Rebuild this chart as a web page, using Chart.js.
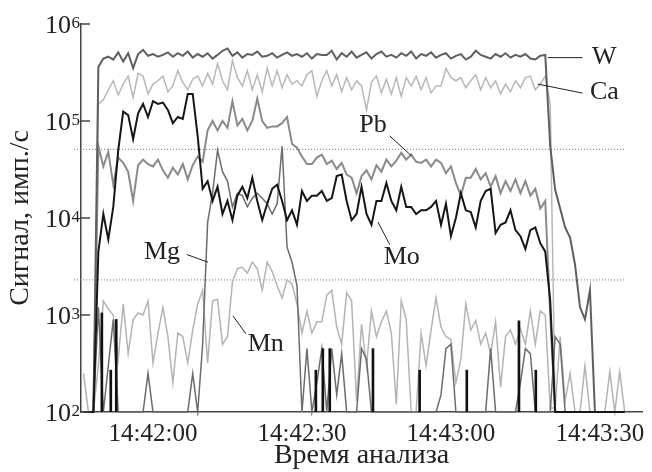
<!DOCTYPE html>
<html lang="ru">
<head>
<meta charset="UTF-8">
<title>Сигнал, имп./с</title>
<script src="https://cdn.jsdelivr.net/npm/chart.js"></script>
<style>
  html, body { margin: 0; padding: 0; background: #fff; }
</style>
</head>
<body>
<canvas id="chart" width="652" height="472"></canvas>
<script>
// time axis: seconds after 14:42:00, one sample per second
const secs = Array.from({ length: 110 }, (v, i) => i - 14);

const tickSecs = [0, 30, 60, 90];
const tickLabels = ['14:42:00', '14:42:30', '14:43:00', '14:43:30'];
const decadeTicks = [1e2, 1e3, 1e4, 1e5, 1e6];
const decadeExps = ['2', '3', '4', '5', '6'];

// signal, counts/s
const W = [
  100, 100, 100, 3.6e5, 4.4e5, 4.6e5, 4.3e5, 5.1e5, 4.1e5, 5.0e5,
  3.5e5, 4.9e5, 5.4e5, 4.7e5, 4.9e5, 4.6e5, 4.8e5, 5.1e5, 4.6e5, 5.0e5,
  4.7e5, 5.2e5, 4.5e5, 4.9e5, 4.6e5, 5.0e5, 4.4e5, 4.8e5, 5.3e5, 5.6e5,
  4.7e5, 5.1e5, 4.5e5, 4.9e5, 4.8e5, 5.2e5, 4.6e5, 4.7e5, 5.0e5, 4.5e5,
  4.8e5, 5.1e5, 4.7e5, 4.9e5, 4.6e5, 5.0e5, 4.4e5, 4.9e5, 4.8e5, 4.8e5,
  5.3e5, 4.3e5, 5.0e5, 4.6e5, 5.2e5, 4.5e5, 4.8e5, 5.1e5, 4.4e5, 4.9e5,
  5.2e5, 4.6e5, 4.8e5, 4.5e5, 5.0e5, 4.7e5, 5.2e5, 4.4e5, 4.9e5, 4.7e5,
  5.1e5, 4.5e5, 4.8e5, 5.0e5, 4.4e5, 4.7e5, 4.9e5, 4.3e5, 4.6e5, 5.3e5,
  4.8e5, 4.6e5, 4.4e5, 4.9e5, 4.6e5, 5.0e5, 4.5e5, 4.8e5, 4.6e5, 4.9e5,
  4.4e5, 4.3e5, 4.7e5, 4.8e5, 5.5e4, 1.95e4, 1.25e4, 8e3, 6.3e3, 3.3e3,
  1.2e3, 900, 1.8e3, 100, 100, 100, 100, 100, 100, 100
];
const Ca = [
  100, 100, 100, 1.5e5, 1.65e5, 2.1e5, 2.6e5, 1.85e5, 2.4e5, 2.9e5,
  1.75e5, 3.1e5, 2.9e5, 1.9e5, 2.4e5, 2.6e5, 2.9e5, 2.0e5, 2.3e5, 3.3e5,
  2.5e5, 2.1e5, 2.7e5, 2.9e5, 2.3e5, 3.1e5, 2.4e5, 3.9e5, 2.6e5, 2.1e5,
  4.2e5, 2.8e5, 2.3e5, 3.3e5, 2.1e5, 3.0e5, 2.0e5, 3.5e5, 2.3e5, 3.3e5,
  2.2e5, 3.0e5, 2.4e5, 2.6e5, 2.3e5, 3.0e5, 3.3e5, 1.8e5, 2.6e5, 3.3e5,
  2.3e5, 3.0e5, 2.0e5, 2.8e5, 2.1e5, 2.6e5, 2.3e5, 1.3e5, 2.5e5, 2.9e5,
  1.95e5, 2.7e5, 1.9e5, 2.8e5, 1.8e5, 2.8e5, 2.3e5, 2.9e5, 2.1e5, 2.8e5,
  1.95e5, 2.3e5, 2.3e5, 3.5e5, 2.8e5, 2.6e5, 2.8e5, 2.2e5, 2.6e5, 3.0e5,
  2.1e5, 2.8e5, 2.2e5, 2.6e5, 1.9e5, 2.4e5, 2.0e5, 2.6e5, 2.2e5, 2.8e5,
  2.9e5, 2.1e5, 2.4e5, 2.9e5, 1.5e5, 100, 100, 100, 100, 100,
  100, 100, 100, 100, 100, 100, 100, 100, 100, 100
];
const Pb = [
  100, 100, 100, 5.5e4, 3.4e4, 4.8e4, 2.2e4, 4.2e4, 3.7e4, 3.0e4,
  1.5e4, 3.5e4, 4.0e4, 3.6e4, 3.4e4, 4.0e4, 3.1e4, 2.6e4, 3.3e4, 2.8e4,
  3.6e4, 2.5e4, 3.5e4, 4.3e4, 3.8e4, 8e4, 1.0e5, 8e4, 1.0e5, 8.5e4,
  1.6e5, 9e4, 1.05e5, 8e4, 1.0e5, 1.7e5, 1.0e5, 8.5e4, 8.8e4, 8.8e4,
  9.5e4, 1.1e5, 5.8e4, 5.3e4, 4.3e4, 3.6e4, 3.6e4, 4.2e4, 4.5e4, 3.6e4,
  3.9e4, 3.2e4, 3.7e4, 2.8e4, 2.6e4, 1.8e4, 2.7e4, 3.1e4, 2.5e4, 3.5e4,
  3.0e4, 4.0e4, 3.4e4, 3.9e4, 4.7e4, 4.0e4, 4.5e4, 3.8e4, 3.7e4, 4.0e4,
  3.4e4, 4.0e4, 3.7e4, 2.9e4, 3.4e4, 2.3e4, 1.7e4, 2.6e4, 2.6e4, 3.2e4,
  2.5e4, 2.9e4, 2.1e4, 2.7e4, 1.8e4, 2.4e4, 1.9e4, 2.5e4, 1.8e4, 2.4e4,
  1.7e4, 2.0e4, 1.25e4, 1.5e4, 1e3, 100, 100, 100, 100, 100,
  100, 100, 100, 100, 100, 100, 100, 100, 100, 100
];
const Mo = [
  100, 100, 100, 4.5e3, 1.1e4, 6e3, 1.3e4, 5e4, 1.25e5, 1.15e5,
  6.5e4, 1.2e5, 1.5e5, 1.1e5, 1.6e5, 1.5e5, 1.55e5, 1.3e5, 9.5e4, 1.1e5,
  1.05e5, 1.9e5, 1.9e5, 7e4, 2.0e4, 2.4e4, 1.5e4, 2.1e4, 1.1e4, 1.5e4,
  9.5e3, 1.7e4, 2.1e4, 1.6e4, 2.6e4, 1.5e4, 9.5e3, 1.4e4, 2.0e4, 2.2e4,
  1.5e4, 9.5e3, 1.2e4, 8.5e3, 1.9e4, 1.5e4, 1.7e4, 1.7e4, 1.9e4, 1.5e4,
  1.6e4, 2.7e4, 2.8e4, 1.5e4, 9.5e3, 1.1e4, 2.1e4, 1.1e4, 8.5e3, 1.5e4,
  1.5e4, 2.3e4, 1.5e4, 1.2e4, 2.1e4, 1.3e4, 1.3e4, 1.1e4, 1.2e4, 1.2e4,
  1.3e4, 1.5e4, 8.5e3, 1.4e4, 6.5e3, 1.0e4, 1.8e4, 1.2e4, 1.15e4, 8e3,
  1.5e4, 1.9e4, 2.0e4, 7e3, 8.5e3, 9e3, 1.2e4, 7.5e3, 6.5e3, 4.8e3,
  7.5e3, 8e3, 5.5e3, 4.5e3, 1.4e3, 100, 100, 100, 100, 100,
  100, 100, 100, 100, 100, 100, 100, 100, 100, 100
];
const Mg = [
  100, 100, 100, 1.2e3, 100, 300, 900, 100, 100, 100,
  100, 100, 100, 250, 100, 100, 100, 100, 100, 100,
  100, 100, 250, 100, 500, 9e3, 1.8e4, 5e4, 3e4, 2.4e4,
  1.3e4, 1.8e4, 1.7e4, 1.3e4, 1.6e4, 1.8e4, 1.6e4, 1.4e4, 1.1e4, 1.4e4,
  5.5e4, 5e3, 3.5e3, 2e3, 100, 450, 100, 200, 450, 100,
  450, 150, 400, 100, 100, 100, 450, 350, 100, 100,
  100, 100, 100, 100, 100, 100, 100, 100, 100, 100,
  100, 100, 150, 450, 500, 100, 100, 100, 100, 100,
  100, 100, 450, 100, 100, 100, 100, 100, 200, 450,
  400, 100, 100, 100, 100, 600, 500, 100, 100, 100,
  100, 100, 100, 100, 100, 100, 100, 100, 100, 100
];
const Mn = [
  250, 100, 100, 300, 1.4e3, 1.15e3, 1.0e3, 350, 1.3e3, 400,
  900, 1.05e3, 1.0e3, 1.4e3, 320, 650, 1.2e3, 600, 200, 650,
  600, 320, 700, 1.3e3, 1.8e3, 320, 1.4e3, 1.45e3, 500, 600,
  2.2e3, 3.0e3, 3.1e3, 2.7e3, 3.5e3, 3.0e3, 1.8e3, 3.5e3, 2.8e3, 2.0e3,
  1.5e3, 2.3e3, 2.1e3, 1.3e3, 650, 1.1e3, 650, 850, 850, 1.6e3,
  1.8e3, 750, 500, 1.7e3, 1.4e3, 130, 800, 300, 1.1e3, 600,
  850, 1.1e3, 650, 120, 1.4e3, 900, 100, 100, 650, 300,
  700, 1.5e3, 750, 600, 560, 200, 350, 1.3e3, 700, 880,
  500, 650, 400, 850, 180, 600, 700, 500, 720, 500,
  1.1e3, 500, 1.1e3, 1.0e3, 110, 110, 600, 130, 250, 100,
  100, 300, 100, 100, 100, 100, 260, 100, 260, 100
];

// short black bursts near the background level
const spikeSecs = [-10.3, -8.5, -7.4, 32.8, 34.2, 35.6, 44.3, 53.7, 63.2, 73.7, 77.1];
const spikeVals = [1050, 270, 900, 270, 450, 450, 450, 270, 270, 870, 270];

// dotted reference levels and their time span
const refLevels = [5.1e4, 2.3e3];
const refSpan = [-15.9, 95];

// element labels: text centre and leader line, in data units
const notes = [
  { text: 'W',  at: [90.9, 4.6e5], from: [79.5, 4.5e5], to: [86.5, 4.5e5] },
  { text: 'Ca', at: [90.9, 2.0e5], from: [77.5, 2.4e5], to: [86.5, 1.94e5] },
  { text: 'Pb', at: [44.3, 9.1e4], from: [47.7, 7.0e4], to: [52.1, 4.35e4] },
  { text: 'Mo', at: [50.1, 3.9e3], from: [47.7, 5.3e3], to: [45.3, 9.1e3] },
  { text: 'Mg', at: [1.8, 4.4e3],  from: [6.8, 4.2e3],  to: [11.1, 3.5e3] },
  { text: 'Mn', at: [22.7, 500],   from: [16.1, 980],   to: [18.7, 640] }
];

const serif = 'Liberation Serif';

function series(label, values, color, width, order) {
  return {
    type: 'line',
    label: label,
    data: secs.map((s, i) => ({ x: s, y: values[i] })),
    borderColor: color,
    borderWidth: width,
    pointRadius: 0,
    tension: 0,
    fill: false,
    order: order,
    clip: 4
  };
}

const datasets = [
  series('Mo', Mo, '#161616', 2, 1),
  series('W', W, '#5f5f5f', 2, 2),
  series('Pb', Pb, '#8a8a8a', 2, 3),
  series('Mg', Mg, '#6c6c6c', 1.5, 4),
  series('Ca', Ca, '#b8b8b8', 1.5, 5),
  series('Mn', Mn, '#b4b4b4', 1.5, 6),
  {
    type: 'bar',
    label: 'spikes',
    data: spikeSecs.map((s, i) => ({ x: s, y: [100, spikeVals[i]] })),
    backgroundColor: '#111',
    barThickness: 2,
    order: 0
  }
];
refLevels.forEach(v => {
  datasets.push({
    type: 'line',
    label: 'ref',
    data: refSpan.map(s => ({ x: s, y: v })),
    borderColor: '#777',
    borderWidth: 1,
    borderDash: [1, 2],
    pointRadius: 0,
    order: 10,
    clip: false
  });
});

const decor = {
  id: 'decor',
  afterDraw(chart) {
    const ctx = chart.ctx;
    const xs = chart.scales.x, ys = chart.scales.y;
    const left = chart.chartArea.left;
    ctx.save();
    // inward ticks and 10^n labels
    ctx.strokeStyle = '#444';
    ctx.lineWidth = 1.5;
    ctx.fillStyle = '#222';
    decadeTicks.forEach((v, i) => {
      const y = ys.getPixelForValue(v);
      ctx.beginPath();
      ctx.moveTo(left, y);
      ctx.lineTo(left + 9, y);
      ctx.stroke();
      ctx.textBaseline = 'alphabetic';
      ctx.font = '26px "' + serif + '"';
      ctx.textAlign = 'right';
      ctx.fillText('10', left - 10, y + 8.6);
      ctx.font = '17px "' + serif + '"';
      ctx.textAlign = 'left';
      ctx.fillText(decadeExps[i], left - 9.5, y + 4.3);
    });
    // element labels
    ctx.strokeStyle = '#222';
    ctx.lineWidth = 1;
    ctx.font = '26px "' + serif + '"';
    ctx.textAlign = 'center';
    ctx.textBaseline = 'middle';
    notes.forEach(n => {
      ctx.beginPath();
      ctx.moveTo(xs.getPixelForValue(n.from[0]), ys.getPixelForValue(n.from[1]));
      ctx.lineTo(xs.getPixelForValue(n.to[0]), ys.getPixelForValue(n.to[1]));
      ctx.stroke();
      ctx.fillText(n.text, xs.getPixelForValue(n.at[0]), ys.getPixelForValue(n.at[1]));
    });
    ctx.restore();
  }
};

new Chart(document.getElementById('chart'), {
  type: 'line',
  data: { datasets: datasets },
  options: {
    responsive: false,
    animation: false,
    layout: { padding: { top: 24, right: 9, left: 0, bottom: 0 } },
    plugins: { legend: { display: false }, tooltip: { enabled: false } },
    scales: {
      x: {
        type: 'linear',
        min: -14.5,
        max: 98.5,
        offset: false,
        grid: { display: false, drawTicks: false },
        border: { display: true, color: '#444', width: 1.5 },
        afterBuildTicks: s => { s.ticks = tickSecs.map(v => ({ value: v })); },
        afterFit: s => { s.height = 60; },
        ticks: {
          autoSkip: false,
          maxRotation: 0,
          padding: 7,
          color: '#222',
          font: { family: serif, size: 25 },
          callback: (v, i) => tickLabels[i]
        },
        title: {
          display: true,
          text: 'Время анализа',
          color: '#222',
          font: { family: serif, size: 28 },
          padding: { top: 0, bottom: 0 }
        }
      },
      y: {
        type: 'logarithmic',
        min: 100,
        max: 1e6,
        grid: { display: false, drawTicks: false },
        border: { display: true, color: '#444', width: 1.5 },
        afterBuildTicks: s => { s.ticks = decadeTicks.map(v => ({ value: v })); },
        afterFit: s => { s.width = 81; },
        ticks: { display: false },
        title: {
          display: true,
          text: 'Сигнал, имп./с',
          color: '#222',
          font: { family: serif, size: 28 },
          padding: { top: 4, bottom: 0 }
        }
      }
    }
  },
  plugins: [decor]
});
</script>
</body>
</html>
